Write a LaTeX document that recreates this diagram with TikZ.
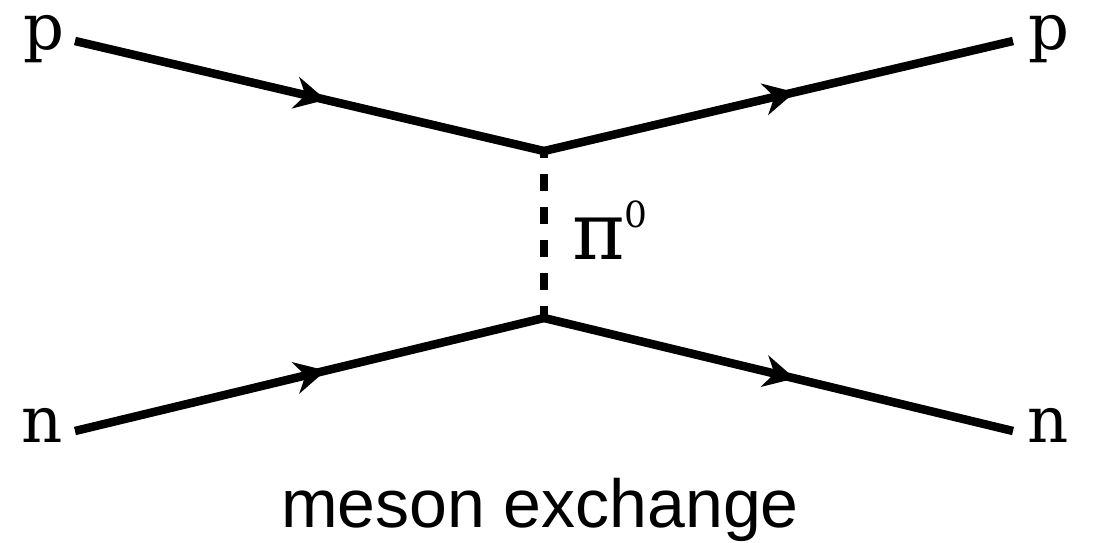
\documentclass[tikz,border=0pt]{standalone}
\usepackage{fontspec}
\setmainfont{DejaVu Serif}
\newfontfamily\captionfont{Liberation Sans}
\usetikzlibrary{arrows.meta,decorations.markings}

\tikzset{
  fermion/.style={line width=8.5pt, line cap=butt,
    postaction={decorate, decoration={markings,
      mark=at position 0.535 with {\arrow{Stealth[length=31pt,width=32pt,inset=10pt]}}}}},
  meson/.style={line width=8.5pt, dash pattern=on 17pt off 16pt, dash phase=10pt},
  particle/.style={anchor=base, inner sep=0pt, text height=1ex, text depth=0pt,
    font=\fontsize{64}{68}\selectfont},
  caption/.style={anchor=base, inner sep=0pt, font=\captionfont\fontsize{68}{72}\selectfont}
}

\begin{document}
\begin{tikzpicture}[x=1pt, y=-1pt]
  \useasboundingbox (0,0) rectangle (1093,543);

  % external legs and vertices
  \coordinate (pin)  at (75,41);
  \coordinate (pout) at (1013,41);
  \coordinate (nin)  at (75,431);
  \coordinate (nout) at (1013,431);
  \coordinate (vtop) at (544,151);
  \coordinate (vbot) at (544,318);

  % proton and neutron lines
  \draw[fermion] (pin) -- (vtop);
  \draw[fermion] (vtop) -- (pout);
  \draw[fermion] (nin) -- (vbot);
  \draw[fermion] (vbot) -- (nout);

  % pion exchange
  \draw[meson] (vtop) -- (vbot);

  % labels
  \node[particle] (lp1) at (44,50) {p};
  \node[particle] (lp2) at (1049,50) {p};
  \node[particle] (ln1) at (42,442) {n};
  \node[particle] (ln2) at (1048,442) {n};
  \node[anchor=base west, inner sep=0pt] (lpi) at (572,259)
    {\fontsize{80}{84}\selectfont π\raisebox{0.4em}{\fontsize{36}{40}\selectfont 0}};
  \node[caption] (cap) at (540,527) {meson exchange};
\end{tikzpicture}
\end{document}
